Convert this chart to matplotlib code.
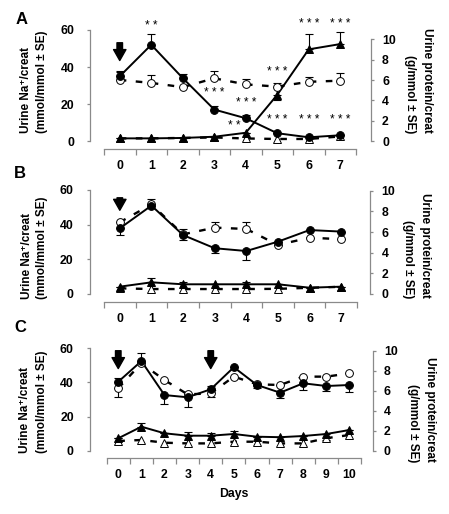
# three-panel urine Na+/creat and protein/creat time courses (panels A, B, C)
import numpy as np
import matplotlib.pyplot as plt

plt.rcParams['font.family'] = ['Liberation Sans', 'DejaVu Sans']

W, H = 449, 514
GREY = "#8a8a8a"

# ---- panel A (days 0-7) ----
days_a = [0, 1, 2, 3, 4, 5, 6, 7]
na_trt_a = [35, 52, 34, 17, 12.3, 4.2, 2.0, 3.1]
na_trt_a_err = [3, 6, 2, 2, 1.5, 0, 0, 0]          # + bar above, - bar below
na_ctl_a = [33, 31.4, 29.1, 33.9, 30.6, 29.4, 32, 32.6]
na_ctl_a_err = [4.5, 4.3, 0, 4.1, 2.9, 1.8, 2.8, 4.3]
pr_trt_a = [0.26, 0.26, 0.3, 0.42, 0.81, 4.55, 9.03, 9.55]
pr_trt_a_err = [0, 0, 0, 0, 0, -0.5, 1.5, 1.2]
pr_ctl_a = [0.26, 0.26, 0.3, 0.35, 0.25, 0.2, 0.2, 0.45]
stars_a = [(1, 62.2, "* *"), (6, 63.2, "* * *"), (7, 63.2, "* * *"),
           (3, 26, "* * *"), (4, 20.5, "* * *"), (5, 37.3, "* * *"),
           (3.64, 8.1, "* *"), (5, 11.4, "* * *"), (6, 11.4, "* * *"),
           (7, 11.4, "* * *")]

# ---- panel B (days 0-7) ----
days_b = [0, 1, 2, 3, 4, 5, 6, 7]
na_trt_b = [37.9, 51, 34, 26.4, 24.8, 30.2, 36.9, 36]
na_trt_b_err = [-3.9, 3.6, -3, -2.9, -5, -2, 0, 0]
na_ctl_b = [41.4, 51.7, 34.4, 38.3, 37.5, 28.3, 32.5, 31.6]
na_ctl_b_err = [0, 0, 3, 3, 3.9, 0, 0, 0]
pr_trt_b = [0.71, 1.13, 0.94, 0.94, 0.94, 0.94, 0.61, 0.71]
pr_trt_b_err = [0, 0.4, 0.2, 0, 0.2, 0, 0, 0]
pr_ctl_b = [0.55, 0.48, 0.48, 0.48, 0.48, 0.5, 0.6, 0.7]

# ---- panel C (days 0-10) ----
days_c = [0, 1, 2, 3, 4, 5, 6, 7, 8, 9, 10]
na_trt_c = [40.4, 52.5, 32.6, 31.3, 36, 48.9, 38.5, 34, 39.5, 37.9, 38.5]
na_trt_c_err = [2.2, 4.5, -5.4, -5.5, 1.9, 0, -2, -3.3, -3.9, -2.9, -3.9]
na_ctl_c = [36.6, 51.2, 41.4, 33, 33.6, 43.4, 38.9, 38.5, 43.4, 43.4, 45.3]
na_ctl_c_err = [-5.3, 0, 0, 1, -2.3, 0, 0, 0, 0, 0, 0]
pr_trt_c = [1.24, 2.4, 1.74, 1.5, 1.5, 1.67, 1.4, 1.35, 1.47, 1.67, 2.07]
pr_trt_c_err = [0, 0.34, 0, 0.35, 0.3, 0.3, 0, 0, 0, -0.6, 0]
pr_ctl_c = [0.97, 1.07, 0.8, 0.73, 0.73, 0.9, 0.9, 0.73, 0.73, 1.25, 1.57]

na_ticks = [0, 20, 40, 60]
pr_ticks = [0, 2, 4, 6, 8, 10]


def fig_rect(x0, y0, x1, y1):
    return [x0 / W, 1 - y1 / H, (x1 - x0) / W, (y1 - y0) / H]


def split_err(err):
    err = np.asarray(err, dtype=float)
    return [np.clip(-err, 0, None), np.clip(err, 0, None)]


def series(ax, x, y, err, filled, marker, dashed):
    ls = (0, (2.8, 4)) if dashed else "-"
    lw = 1.7 if dashed else 1.4
    ax.plot(x, y, color="k", ls=ls, lw=lw, zorder=2)
    if err is not None:
        ax.errorbar(x, y, yerr=split_err(err), fmt="none", ecolor="k",
                    elinewidth=0.8, capsize=3, capthick=0.8, zorder=3)
    ax.plot(x, y, ls="none", marker=marker, ms=5.6,
            mfc="k" if filled else "white", mec="k", mew=0.7, zorder=4)


def panel(box, days, na_t, na_t_err, na_c, na_c_err, pr_t, pr_t_err, pr_c,
          zero_px, top60_px, top10_px, out_l, out_r, arrows):
    x0, y0, x1, y1 = box
    ax = fig.add_axes(fig_rect(x0, y0, x1, y1))
    n = len(days)
    s_l = (zero_px - top60_px) / 60.0
    s_r = (zero_px - top10_px) / 10.0
    ax.set_ylim(-(y1 - zero_px) / s_l, (zero_px - y0) / s_l)
    ax.set_xlim(-0.5, n - 0.5)
    ax2 = ax.twinx()
    ax2.set_ylim(-(y1 - zero_px) / s_r, (zero_px - y0) / s_r)
    ax.set_zorder(2)
    ax.patch.set_visible(False)

    for a in (ax, ax2):
        for s in a.spines.values():
            s.set_visible(False)
            s.set_color(GREY)
            s.set_linewidth(0.9)
    ax.spines["bottom"].set_visible(True)
    ax.spines["left"].set_visible(True)
    ax.spines["left"].set_position(("outward", out_l))
    ax.spines["left"].set_bounds(0, 60)
    ax2.spines["right"].set_visible(True)
    ax2.spines["right"].set_position(("outward", out_r))
    ax2.spines["right"].set_bounds(0, 10)

    ax.set_xticks(days)
    ax.set_xticklabels([str(d) for d in days], fontsize=8.8, fontweight="bold")
    ax.tick_params(axis="x", which="major", length=0, pad=8)
    ax.set_xticks(np.arange(-0.5, n), minor=True)
    ax.tick_params(axis="x", which="minor", length=4, color=GREY, width=0.9)
    ax.set_yticks(na_ticks)
    ax.set_yticklabels([str(t) for t in na_ticks], fontsize=8.8, fontweight="bold")
    ax.tick_params(axis="y", length=2.5, color=GREY, width=0.9, pad=9)
    ax2.set_yticks(pr_ticks)
    ax2.set_yticklabels([str(t) for t in pr_ticks], fontsize=8.8, fontweight="bold")
    ax2.tick_params(axis="y", length=2.5, color=GREY, width=0.9, pad=5.5)

    # protein (right axis) drawn on the same axes, converted to left scale
    k = s_r / s_l
    pt = np.asarray(pr_t) * k
    pc = np.asarray(pr_c) * k
    pte = np.asarray(pr_t_err) * k
    series(ax, days, pc, None, False, "^", True)
    series(ax, days, na_c, na_c_err, False, "o", True)
    series(ax, days, pt, pte, True, "^", False)
    series(ax, days, na_t, na_t_err, True, "o", False)

    for ax_x, ytop, ybot in arrows:
        ax.annotate("", xy=(ax_x, ybot), xytext=(ax_x, ytop),
                    arrowprops=dict(arrowstyle="simple,head_width=0.85,"
                                    "head_length=0.75,tail_width=0.38",
                                    color="k", mutation_scale=10.5), zorder=5)
    return ax


fig = plt.figure(figsize=(W / 100, H / 100), dpi=100)

ax_a = panel((104, 25, 356, 149), days_a, na_trt_a, na_trt_a_err, na_ctl_a,
             na_ctl_a_err, pr_trt_a, pr_trt_a_err, pr_ctl_a,
             141, 30, 39.5, 10, 10.8, [(0, 54.6, 42)])
for x, y, t in stars_a:
    ax_a.text(x, y, t, fontsize=8.5, ha="center", va="center", zorder=6)

panel((104, 185, 357, 301.7), days_b, na_trt_b, na_trt_b_err, na_ctl_b,
      na_ctl_b_err, pr_trt_b, pr_trt_b_err, pr_ctl_b,
      294, 190, 190.7, 10.3, 9.6, [(0, 57.1, 46.7)])

ax_c = panel((106.7, 343, 361, 458.3), days_c, na_trt_c, na_trt_c_err, na_ctl_c,
             na_ctl_c_err, pr_trt_c, pr_trt_c_err, pr_ctl_c,
             450.7, 348.3, 350.7, 12.2, 8.4, [(0, 60.2, 46.5), (4, 60.2, 46.5)])
ax_c.set_xlabel("Days", fontsize=8.8, fontweight="bold", labelpad=5)


def ftext(x, y, s, **kw):
    fig.text(x / W, 1 - y / H, s, **kw)


lab = dict(fontsize=8.5, fontweight="bold")
for (lx1, lx2, rx1, rx2, bot_l, bot_r) in [(26, 42, 427, 410, 133, 133),
                                           (27, 42, 425, 408, 299, 298),
                                           (25, 42, 430, 413, 453, 462)]:
    ftext(lx1, bot_l, "Urine Na\u207a/creat", rotation=90, ha="center",
          va="bottom", **lab)
    ftext(lx2, bot_l, "(mmol/mmol \u00b1 SE)", rotation=90, ha="center",
          va="bottom", **lab)
    ftext(rx1, bot_r, "Urine protein/creat", rotation=-90, ha="center",
          va="bottom", **lab)
    ftext(rx2, bot_r, "(g/mmol \u00b1 SE)", rotation=-90, ha="center",
          va="bottom", **lab)

for letter, (x, y) in zip("ABC", [(22, 19), (20, 174), (20, 328)]):
    ftext(x, y, letter, fontsize=12, fontweight="bold", ha="center", va="center")

fig.savefig("out.png", dpi=100)
